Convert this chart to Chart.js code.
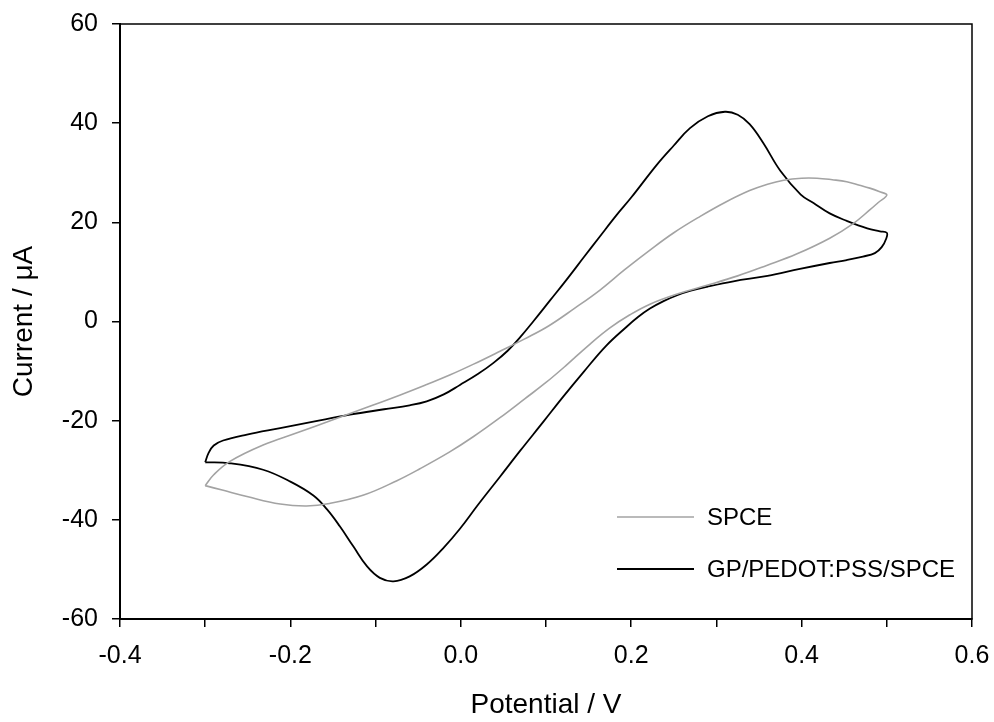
<!DOCTYPE html>
<html>
<head>
<meta charset="utf-8">
<script src="https://cdn.jsdelivr.net/npm/chart.js@4.4.1/dist/chart.umd.min.js"></script>
<style>
    html, body { margin: 0; padding: 0; background: #fff; }
    #box { width: 994px; height: 722px; }
</style>
</head>
<body>
<div id="box"><canvas id="cvGraph"></canvas></div>
<script>
// Cyclic voltammograms (V, uA)
// scan starts at -0.3 V, goes up to 0.5 V and back
const spcePotential = [-0.300, -0.290, -0.271, -0.232, -0.193, -0.150, -0.110, -0.071, -0.040, -0.013, 0.015, 0.046, 0.075, 0.103, 0.133, 0.163, 0.192, 0.222, 0.250, 0.281, 0.310, 0.339, 0.360, 0.379, 0.400, 0.418, 0.436, 0.453, 0.468, 0.480, 0.491, 0.500,
    0.490, 0.480, 0.461, 0.433, 0.394, 0.359, 0.325, 0.289, 0.255, 0.222, 0.198, 0.175, 0.150, 0.124, 0.100, 0.075, 0.046, 0.015, -0.013, -0.048, -0.075, -0.114, -0.154, -0.181, -0.212, -0.251, -0.280, -0.300];
const spceCurrent = [-33.1, -30.9, -28.2, -24.9, -22.5, -19.8, -17.3, -14.8, -12.7, -10.8, -8.6, -6.0, -3.5, -0.9, 2.6, 6.3, 10.4, 14.4, 17.9, 21.2, 24.0, 26.4, 27.7, 28.5, 28.9, 28.9, 28.6, 28.2, 27.5, 26.9, 26.2, 25.5,
    24.0, 22.5, 19.8, 16.8, 13.6, 11.3, 9.2, 7.3, 5.6, 3.5, 1.3, -1.3, -4.8, -8.8, -12.3, -15.6, -19.4, -23.2, -26.3, -29.7, -32.1, -35.0, -36.7, -37.2, -36.8, -35.3, -34.0, -33.1];

const gpPotential = [-0.300, -0.296, -0.290, -0.279, -0.251, -0.212, -0.173, -0.130, -0.090, -0.060, -0.040, -0.020, -0.001, 0.020, 0.038, 0.055, 0.070, 0.085, 0.105, 0.124, 0.145, 0.163, 0.183, 0.200, 0.230, 0.250, 0.269, 0.290, 0.310, 0.325, 0.339, 0.355, 0.375, 0.399, 0.414, 0.433, 0.453, 0.477, 0.492, 0.500,
    0.4995, 0.494, 0.486, 0.472, 0.453, 0.433, 0.398, 0.360, 0.320, 0.289, 0.270, 0.254, 0.238, 0.222, 0.208, 0.195, 0.170, 0.144, 0.120, 0.097, 0.070, 0.046, 0.020, -0.001, -0.020, -0.040, -0.060, -0.079, -0.095, -0.110, -0.126, -0.142, -0.157, -0.173, -0.200, -0.232, -0.271, -0.300];
const gpCurrent = [-28.4, -26.5, -25.0, -24.0, -22.8, -21.5, -20.2, -18.8, -17.7, -16.9, -16.1, -14.7, -12.8, -10.6, -8.4, -5.9, -3.1, 0.0, 4.3, 8.4, 13.1, 17.1, 21.5, 25.0, 31.6, 35.5, 39.0, 41.4, 42.3, 41.7, 39.8, 36.0, 30.4, 25.6, 23.9, 21.8, 20.3, 18.8, 18.2, 17.9,
    16.8, 15.0, 13.8, 13.1, 12.4, 11.8, 10.6, 9.2, 8.1, 7.0, 6.2, 5.3, 4.1, 2.6, 0.9, -1.0, -5.0, -10.2, -15.2, -20.2, -26.0, -31.3, -37.0, -41.8, -45.6, -49.0, -51.4, -52.4, -51.7, -49.4, -45.4, -41.3, -37.9, -35.1, -32.3, -29.9, -28.6, -28.4];

const seriesNames = ['SPCE', 'GP/PEDOT:PSS/SPCE'];
const xMajorTicks = [-0.4, -0.2, 0.0, 0.2, 0.4, 0.6];
const yTicks = [-60, -40, -20, 0, 20, 40, 60];

const FONT = "'Liberation Sans', Arial, sans-serif";

function toPoints(xs, ys) {
    return xs.map((x, i) => ({ x: x, y: ys[i] }));
}

// cadre complet autour de la zone de tracé + légende dans le graphe
const cadrePlugin = {
    id: 'cadre',
    afterDraw(chart) {
        const ctx = chart.ctx;
        const a = chart.chartArea;
        ctx.save();
        ctx.strokeStyle = '#000';
        ctx.lineWidth = 1.5;
        ctx.strokeRect(a.left, a.top, a.right - a.left, a.bottom - a.top);

        // légende
        const rows = [517, 569];
        ctx.font = '24px ' + FONT;
        ctx.textBaseline = 'middle';
        ctx.fillStyle = '#000';
        chart.data.datasets.forEach((ds, i) => {
            ctx.strokeStyle = ds.borderColor;
            ctx.lineWidth = ds.borderWidth;
            ctx.beginPath();
            ctx.moveTo(617, rows[i]);
            ctx.lineTo(694, rows[i]);
            ctx.stroke();
            ctx.fillText(ds.label, 707, rows[i] + 1);
        });
        ctx.restore();
    }
};

const ctx = document.getElementById('cvGraph').getContext('2d');
new Chart(ctx, {
    type: 'scatter',
    data: {
        datasets: [{
            label: seriesNames[0],
            data: toPoints(spcePotential, spceCurrent),
            showLine: true,
            borderColor: '#a3a3a3',
            borderWidth: 1.6,
            tension: 0.4,
            pointRadius: 0
        }, {
            label: seriesNames[1],
            data: toPoints(gpPotential, gpCurrent),
            showLine: true,
            borderColor: '#000000',
            borderWidth: 1.8,
            tension: 0.4,
            pointRadius: 0
        }]
    },
    options: {
        responsive: true,
        maintainAspectRatio: false,
        animation: false,
        layout: { padding: { top: 24, right: 22, left: 0, bottom: 0 } },
        scales: {
            x: {
                type: 'linear',
                min: -0.4,
                max: 0.6,
                afterFit: scale => {
                    scale.height = 103;
                    scale.paddingLeft = 0;
                    scale.paddingRight = 0;
                },
                afterBuildTicks: scale => {
                    // ticks majeurs + mineurs (milieu)
                    const t = [];
                    xMajorTicks.forEach((v, i) => {
                        t.push({ value: v, major: true });
                        if (i < xMajorTicks.length - 1) t.push({ value: (v + xMajorTicks[i + 1]) / 2 });
                    });
                    scale.ticks = t;
                },
                grid: { drawOnChartArea: false, drawTicks: true, tickLength: 8, color: '#000', lineWidth: 1.5 },
                border: { display: true, color: '#000', width: 2 },
                ticks: {
                    autoSkip: false,
                    maxRotation: 0,
                    padding: 14,
                    color: '#000',
                    font: { family: FONT, size: 25 },
                    callback: function(value) {
                        const v = Math.round(value * 10) / 10;
                        return xMajorTicks.some(m => Math.abs(m - v) < 1e-6) ? v.toFixed(1) : '';
                    }
                },
                title: {
                    display: true,
                    text: 'Potential / V',
                    color: '#000',
                    font: { family: FONT, size: 28 },
                    padding: { top: 0, bottom: 0 }
                }
            },
            y: {
                type: 'linear',
                min: -60,
                max: 60,
                afterFit: scale => {
                    scale.width = 120;
                    scale.paddingTop = 0;
                    scale.paddingBottom = 0;
                },
                afterBuildTicks: scale => {
                    scale.ticks = yTicks.map(v => ({ value: v }));
                },
                grid: { drawOnChartArea: false, drawTicks: true, tickLength: 8, color: '#000', lineWidth: 1.5 },
                border: { display: true, color: '#000', width: 2 },
                ticks: {
                    padding: 14,
                    color: '#000',
                    font: { family: FONT, size: 25 }
                },
                title: {
                    display: true,
                    text: 'Current / μA',
                    color: '#000',
                    font: { family: FONT, size: 28 },
                    padding: { top: 7, bottom: 0 }
                }
            }
        },
        plugins: {
            legend: { display: false },
            tooltip: { enabled: false }
        }
    },
    plugins: [cadrePlugin]
});
</script>
</body>
</html>
